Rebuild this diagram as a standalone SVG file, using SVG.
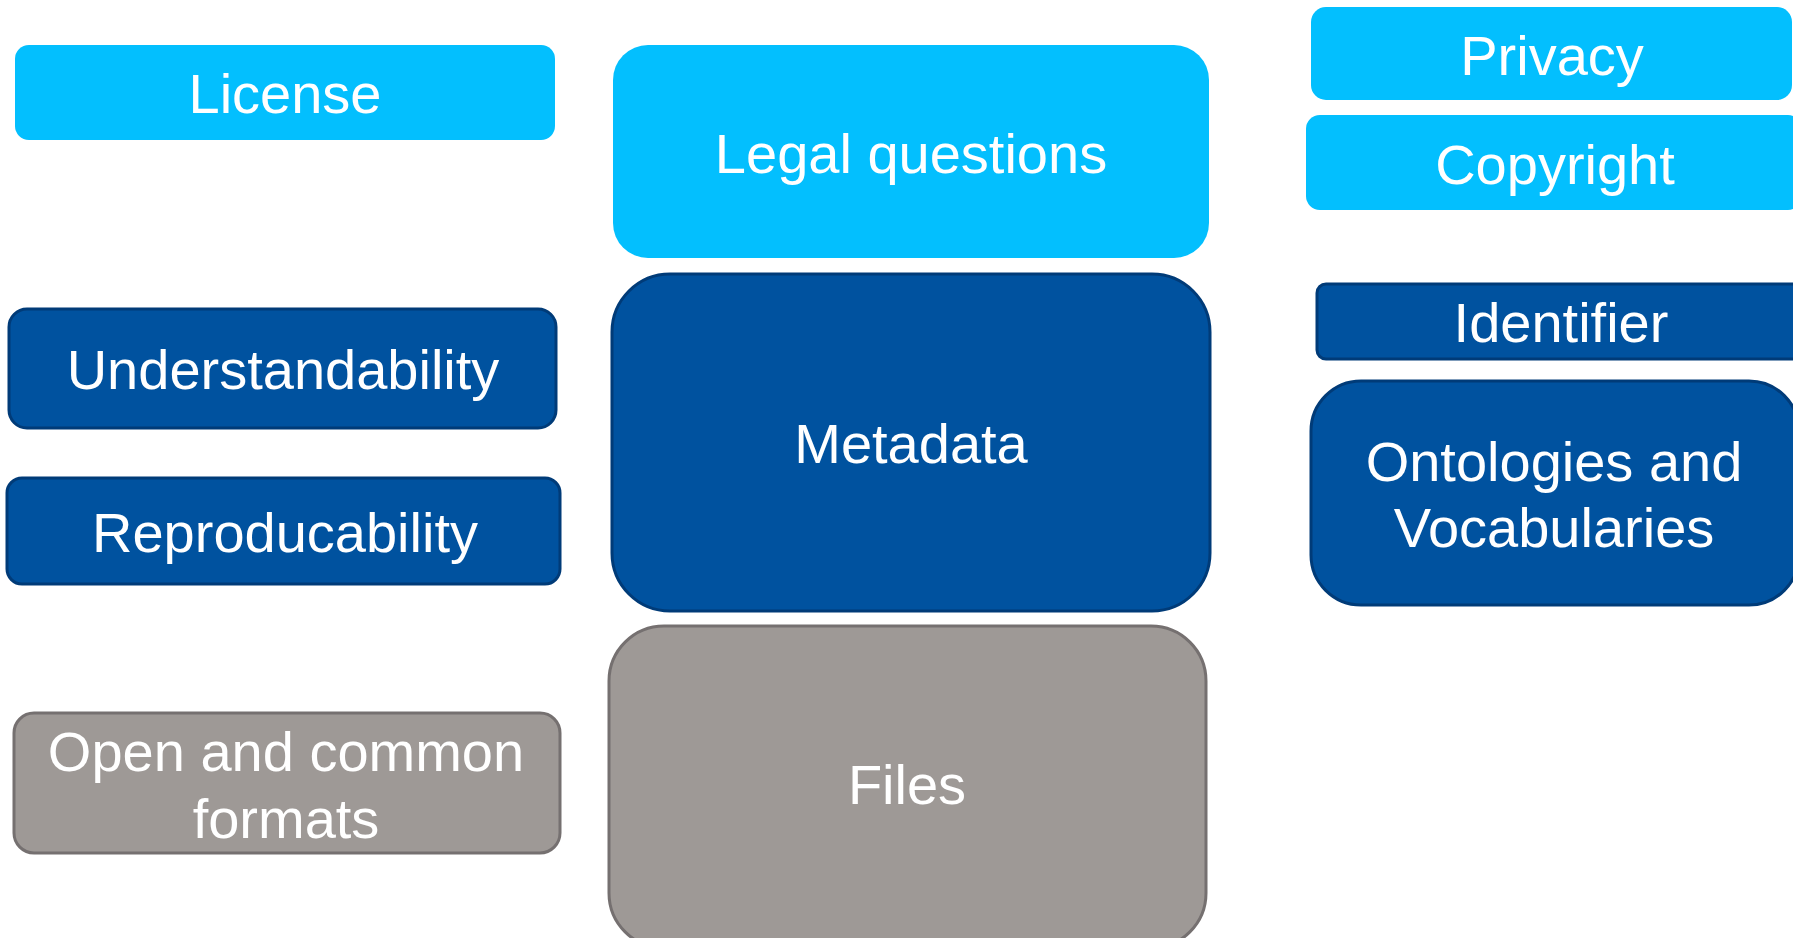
<svg xmlns="http://www.w3.org/2000/svg" width="1793" height="938" viewBox="0 0 1793 938">
<style>
.light{fill:#03BFFE;}
.dark{fill:#00529F;stroke:#003B78;stroke-width:3;}
.grey{fill:#9E9996;stroke:#757070;stroke-width:3;}
text{font-family:"Liberation Sans",Arial,sans-serif;fill:#FFFFFF;text-anchor:middle;font-size:56px;}
</style>
<rect width="1793" height="938" fill="#FFFFFF"/>
<g id="license">
<rect class="light" x="15" y="45" width="540" height="95" rx="14"/>
<text x="285" y="113">License</text>
</g>
<g id="understandability">
<rect class="dark" x="9" y="309" width="547" height="119" rx="18"/>
<text x="283" y="389">Understandability</text>
</g>
<g id="reproducability">
<rect class="dark" x="7" y="478" width="553" height="106" rx="15"/>
<text x="285" y="552">Reproducability</text>
</g>
<g id="open-formats">
<rect class="grey" x="14" y="713" width="546" height="140" rx="20"/>
<text x="286" y="771">Open and common</text>
<text x="286" y="838">formats</text>
</g>
<g id="legal-questions">
<rect class="light" x="613" y="45" width="596" height="213" rx="35"/>
<text x="911" y="173">Legal questions</text>
</g>
<g id="metadata">
<rect class="dark" x="612" y="274" width="598" height="337" rx="58"/>
<text x="911" y="463">Metadata</text>
</g>
<g id="files">
<rect class="grey" x="609" y="626" width="597" height="322" rx="55"/>
<text x="907" y="804">Files</text>
</g>
<g id="privacy">
<rect class="light" x="1311" y="7" width="481" height="93" rx="15"/>
<text x="1552" y="75">Privacy</text>
</g>
<g id="copyright">
<rect class="light" x="1306" y="115" width="496" height="95" rx="14"/>
<text x="1555" y="184">Copyright</text>
</g>
<g id="identifier">
<rect class="dark" x="1317" y="284" width="500" height="75" rx="9"/>
<text x="1561" y="342">Identifier</text>
</g>
<g id="ontologies">
<rect class="dark" x="1311" y="381" width="488" height="224" rx="50"/>
<text x="1554" y="481">Ontologies and</text>
<text x="1554" y="547">Vocabularies</text>
</g>
<g id="connectors"></g>
</svg>
